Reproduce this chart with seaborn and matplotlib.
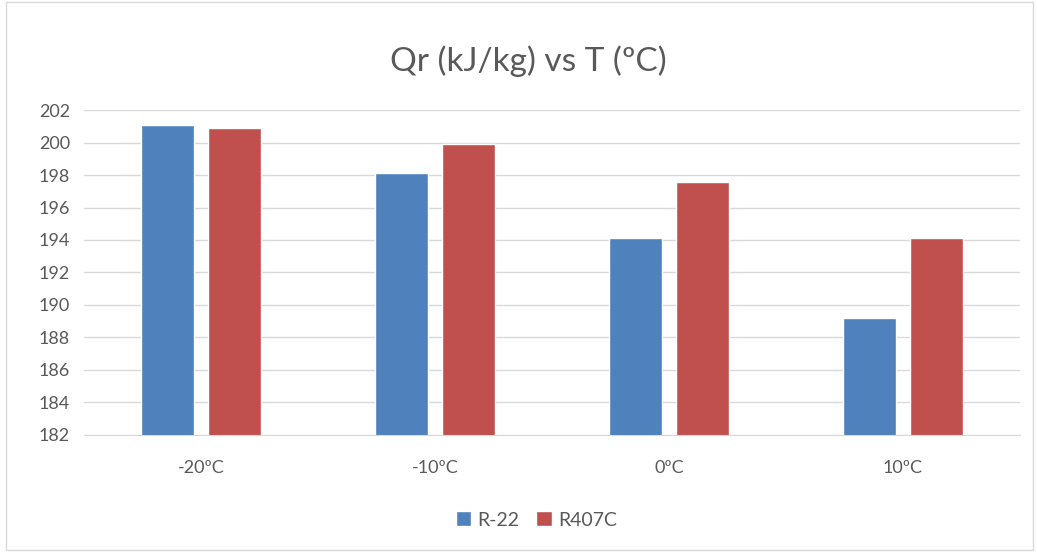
import seaborn as sns
import matplotlib.pyplot as plt
import pandas as pd
from matplotlib.patches import Rectangle

temps = ["-20ºC", "-10ºC", "0ºC", "10ºC"]
r22 = [201.1, 198.1, 194.1, 189.2]
r407c = [200.9, 199.9, 197.6, 194.1]
series = ["R-22", "R407C"]

df = pd.DataFrame({
    "T": temps * 2,
    "Qr": r22 + r407c,
    "refrigerante": [series[0]] * 4 + [series[1]] * 4,
})

sns.set_style("white")
plt.rcParams['font.family'] = ['Lato', 'DejaVu Sans']
txt = "#595959"

fig = plt.figure(figsize=(10.37, 5.52), dpi=100)
ax = fig.add_axes([0.081, 0.212, 0.9026, 0.5887])

sns.barplot(data=df, x="T", y="Qr", hue="refrigerante", ax=ax,
            palette=["#4F81BD", "#C0504D"], width=0.573, gap=0.209,
            saturation=1, legend=True)

ax.set_ylim(182, 202)
ax.set_yticks(range(182, 203, 2))
ax.set_xlim(-0.5, 3.5)
ax.yaxis.grid(True, color="#D9D9D9", linewidth=1)
ax.set_axisbelow(True)
for s in ["top", "right", "left"]:
    ax.spines[s].set_visible(False)
ax.spines["bottom"].set_color("#D9D9D9")
ax.tick_params(axis="both", length=0, labelsize=13, colors=txt, pad=10)
ax.tick_params(axis="x", pad=18)
ax.set_xlabel("")
ax.set_ylabel("")
fig.text(0.5097, 0.89, "Qr (kJ/kg) vs T (ºC)", fontsize=24, color=txt,
         ha="center", va="center")

h, l = ax.get_legend_handles_labels()
ax.legend(h, l, loc="center", bbox_to_anchor=(0.517, 0.058),
          bbox_transform=fig.transFigure, ncol=2,
          frameon=False, fontsize=14, labelcolor=txt, handlelength=0.8,
          handleheight=0.8, handletextpad=0.3, columnspacing=0.9)

fig.patches.append(Rectangle((0.006, 0.004), 0.99, 0.992, transform=fig.transFigure,
                             fill=False, edgecolor="#D9D9D9", linewidth=1))

fig.savefig("out.png", dpi=100)
